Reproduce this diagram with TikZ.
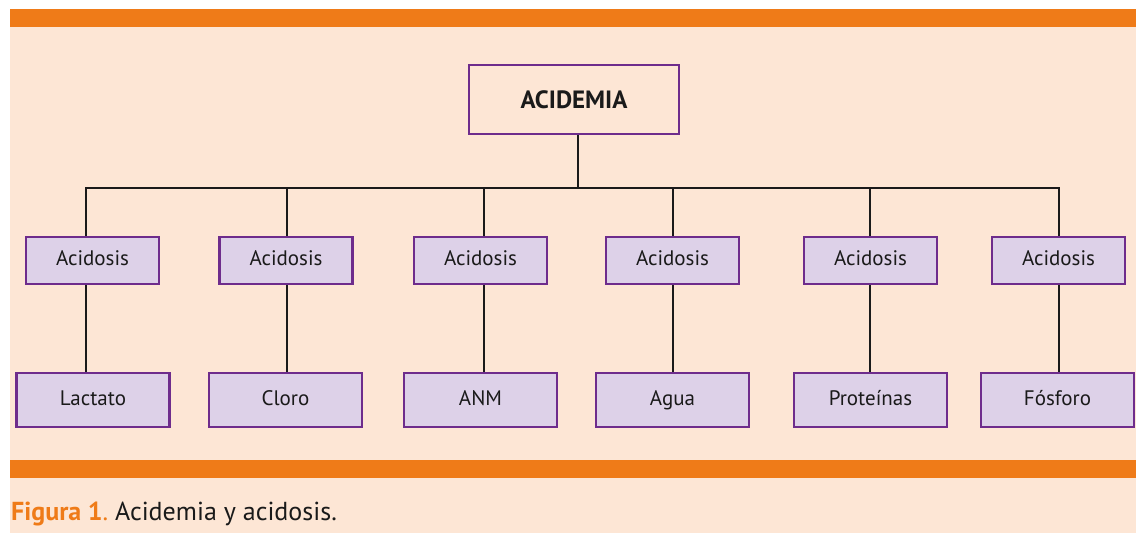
\documentclass[tikz,border=0pt]{standalone}
\usepackage{fontspec}
\setmainfont{PT Sans}
\definecolor{bandorange}{HTML}{EF7B18}
\definecolor{peach}{HTML}{FDE6D5}
\definecolor{lav}{HTML}{DDD1E8}
\definecolor{purp}{HTML}{6E2C8C}
\definecolor{ink}{HTML}{1A1A1A}
\begin{document}
\begin{tikzpicture}[x=1pt,y=-1pt,
  topbox/.style={draw=purp,line width=2.6pt,fill=peach,minimum width=210pt,minimum height=69pt,inner sep=0pt,font=\fontsize{25}{28}\selectfont\bfseries,text=ink},
  midbox/.style={draw=purp,line width=2.6pt,fill=lav,minimum width=133pt,minimum height=47pt,inner sep=0pt,text height=15pt,text depth=5pt,font=\fontsize{21}{24}\selectfont,text=ink},
  lowbox/.style={draw=purp,line width=2.6pt,fill=lav,minimum width=153pt,minimum height=54pt,inner sep=0pt,text height=15pt,text depth=5pt,font=\fontsize{21}{24}\selectfont,text=ink},
  conn/.style={line width=2.8pt,draw=ink}]
\useasboundingbox (0,0) rectangle (1136,533);
\fill[peach] (10,27) rectangle (1136,533);
\fill[bandorange] (10,9) rectangle (1136,27);
\fill[bandorange] (10,460) rectangle (1136,478);

\node[topbox] (top) at (574,99.5) {ACIDEMIA};

\node[midbox] (a1) at (92.5,260.5) {Acidosis};
\node[midbox] (a2) at (286,260.5) {Acidosis};
\node[midbox] (a3) at (480.5,260.5) {Acidosis};
\node[midbox] (a4) at (672.5,260.5) {Acidosis};
\node[midbox] (a5) at (870.5,260.5) {Acidosis};
\node[midbox] (a6) at (1058.5,260.5) {Acidosis};

\node[lowbox] (b1) at (93,400) {Lactato};
\node[lowbox] (b2) at (285.5,400) {Cloro};
\node[lowbox] (b3) at (480.5,400) {ANM};
\node[lowbox] (b4) at (672.5,400) {Agua};
\node[lowbox] (b5) at (870.5,400) {Proteínas};
\node[lowbox] (b6) at (1057.5,400) {Fósforo};

\coordinate (jt) at (578,188);
\coordinate (j1) at (86,188);
\coordinate (j2) at (287,188);
\coordinate (j3) at (484,188);
\coordinate (j4) at (673,188);
\coordinate (j5) at (870,188);
\coordinate (j6) at (1059,188);

\draw[conn] (jt |- top.south) -- (jt);
\draw[conn,line cap=rect] (j1) -- (j6);
\foreach \i in {1,...,6}{
  \draw[conn] (j\i) -- (j\i |- a\i.north);
  \draw[conn] (j\i |- a\i.south) -- (j\i |- b\i.north);
}

\node[anchor=base west,inner sep=0pt,font=\fontsize{26}{29}\selectfont] (cap) at (11,520)
  {\textcolor{bandorange}{\bfseries Figura 1}\textcolor{bandorange}{.}\ \textcolor{ink}{Acidemia y acidosis.}};
\end{tikzpicture}
\end{document}
